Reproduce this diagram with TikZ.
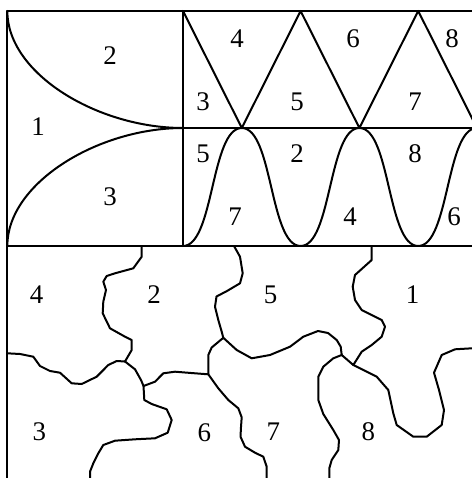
\documentclass[tikz,border=0pt]{standalone}
\usepackage{fontspec}
\setmainfont{Liberation Serif}
\tikzset{
  ln/.style={line width=2bp, line join=round, line cap=round},
  lbl/.style={font=\fontsize{27}{32}\selectfont, inner sep=0pt}
}
\begin{document}
\begin{tikzpicture}[x=1bp,y=-1bp]
\useasboundingbox (0,0) rectangle (472,478);
\begin{scope}
\clip (0,0) rectangle (472,478);
% frame
\draw[ln] (7.3,480) -- (7.3,11) -- (480,11);
\draw[ln] (183,11) -- (183,246);
\draw[ln] (183,128) -- (480,128);
\draw[ln] (7.3,246) -- (480,246);
% left curves
\draw[ln] (7.3,11) .. controls (7.3,74) and (98,128) .. (183,128);
\draw[ln] (7.3,246) .. controls (7.3,183) and (98,128) .. (183,128);
% zigzag
\draw[ln] (183,11) -- (241.8,128) -- (300.6,11) -- (359.4,128) -- (418.2,11) -- (477,128);
% wave
\draw[ln] (183,246) .. controls (214,246) and (210.8,128) .. (241.8,128)
  .. controls (272.8,128) and (269.6,246) .. (300.6,246)
  .. controls (331.6,246) and (328.4,128) .. (359.4,128)
  .. controls (390.4,128) and (387.2,246) .. (418.2,246)
  .. controls (449.2,246) and (446,128) .. (477,128);
% bottom map
\coordinate (J1) at (125,361.5);
\coordinate (J4) at (143.5,386);
\coordinate (J2) at (208.3,374.3);
\coordinate (J5) at (223.3,337.8);
\coordinate (J7) at (341.7,355);
\coordinate (J6) at (353.3,365);
\draw[ln] (141.7,246) -- (141.7,256.7) -- (133.3,268.3) -- (115,273.3) -- (106.7,276) -- (103.3,281.7) -- (106,290) -- (103.3,301.7) -- (102.7,313.3) -- (110,328.3) -- (125,336.7) -- (131.7,340) -- (131.7,350) -- (J1);
\draw[ln] (7.3,353.3) -- (20,354) -- (33.3,356.7) -- (40,366) -- (50,371) -- (60,372.7) -- (71.7,383.3) -- (81.7,384) -- (96.7,376.7) -- (108.3,365) -- (116.7,361) -- (J1);
\draw[ln] (J1) -- (135,369.3) -- (141,380) -- (J4);
\draw[ln] (J4) -- (155,381.7) -- (163.3,373.3) -- (175,371.7) -- (195,373.3) -- (J2);
\draw[ln] (J4) -- (144.3,400) -- (151.7,404) -- (166.7,409.3) -- (171.7,420) -- (167.7,432.7) -- (155,438.3) -- (135,439.3) -- (115,440.7) -- (103.3,445) -- (98.3,453.3) -- (93.3,463.3) -- (90,471.7) -- (90,480);
\draw[ln] (J2) -- (208.3,355) -- (211.7,347.5) -- (J5);
\draw[ln] (234,246) -- (240,256.7) -- (242.7,273.3) -- (240,283.3) -- (227,291) -- (216.5,296.5) -- (215,306.7) -- (218.3,320) -- (221.7,331.7) -- (J5);
\draw[ln] (J5) -- (236.7,350) -- (251.7,358.3) -- (270,355) -- (290,346.7) -- (303.3,336.7) -- (318,331) -- (328,333) -- (336.7,340) -- (340.7,346.7) -- (J7);
\draw[ln] (J7) -- (J6);
\draw[ln] (J7) -- (333.3,358.3) -- (323.3,366.7) -- (318.3,376.7) -- (318.3,400) -- (323.3,414) -- (333.3,430) -- (339,440) -- (338.3,450) -- (331.7,460) -- (329.3,468.3) -- (329.3,480);
\draw[ln] (371.7,246) -- (371.7,260) -- (355,275) -- (352.7,286.7) -- (355,300) -- (361.7,310) -- (381.7,320) -- (385,326.7) -- (381.7,336.7) -- (371.7,345) -- (361.7,351.7) -- (J6);
\draw[ln] (J6) -- (376.7,376.7) -- (388.3,390) -- (393.3,413.3) -- (396.7,425) -- (413.3,436.7) -- (426.7,436.7) -- (441.7,425) -- (444,410) -- (439,390) -- (434,372.7) -- (441.7,355) -- (455,349.3) -- (472,348.3) -- (480,348.3);
\draw[ln] (J2) -- (218.3,388.3) -- (228.3,400) -- (238.3,408.3) -- (241.7,417.3) -- (241,427) -- (240.5,436.7) -- (245,446.7) -- (255,452.7) -- (263.3,456.7) -- (266.7,466.7) -- (266.7,480);
\end{scope}
% labels: left box
\node[lbl] (a2) at (110,56) {2};
\node[lbl] (a1) at (38,127) {1};
\node[lbl] (a3) at (110,197) {3};
% triangles
\node[lbl] (t4) at (237,39) {4};
\node[lbl] (t6) at (353,39) {6};
\node[lbl] (t8) at (452,39) {8};
\node[lbl] (t3) at (203,102) {3};
\node[lbl] (t5) at (297,102) {5};
\node[lbl] (t7) at (415,102) {7};
% wave band
\node[lbl] (w5) at (203,154) {5};
\node[lbl] (w2) at (297,154) {2};
\node[lbl] (w8) at (415,154) {8};
\node[lbl] (w7) at (235,217) {7};
\node[lbl] (w4) at (350,217) {4};
\node[lbl] (w6) at (454,217) {6};
% map
\node[lbl] (m4) at (36.7,295) {4};
\node[lbl] (m2) at (154,295) {2};
\node[lbl] (m5) at (270.7,295) {5};
\node[lbl] (m1) at (412.7,295) {1};
\node[lbl] (m3) at (39.3,431.7) {3};
\node[lbl] (m6) at (204.3,432.7) {6};
\node[lbl] (m7) at (273.3,431.7) {7};
\node[lbl] (m8) at (368.3,431.7) {8};
\end{tikzpicture}
\end{document}
